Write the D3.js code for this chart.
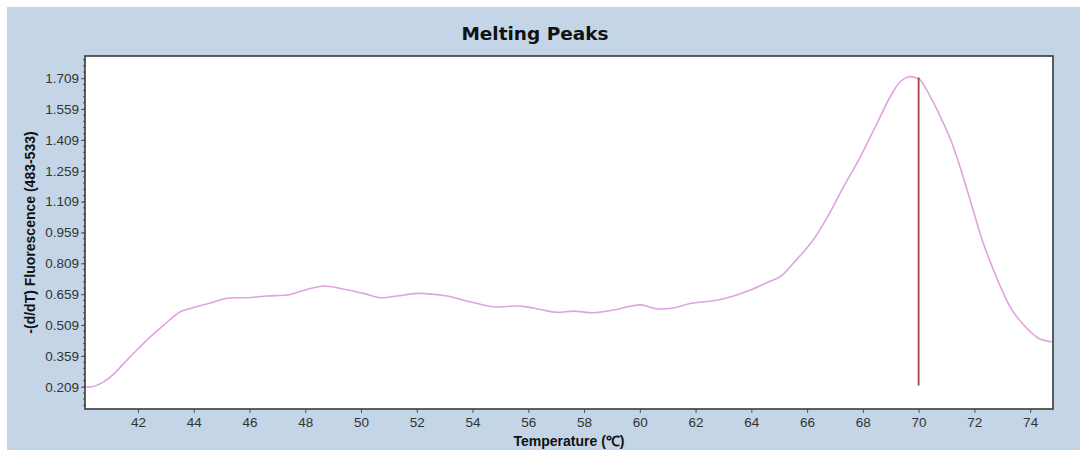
<!DOCTYPE html>
<html>
<head>
<meta charset="utf-8">
<script src="https://cdn.jsdelivr.net/npm/d3@7"></script>
<style>
  html, body { margin: 0; padding: 0; background: #fff; }
  svg { display: block; }
</style>
</head>
<body>
<div id="chart"></div>
<script>
// Data
const temps  = [40.10, 40.36, 40.95, 41.72, 42.32, 42.92, 43.52, 43.88, 44.47, 45.19,
                45.91, 46.63, 47.46, 48.06, 48.66, 49.26, 50.09, 50.69, 51.29, 52.01,
                53.08, 53.80, 54.75, 55.71, 56.43, 57.03, 57.62, 58.34, 59.06, 60.02,
                60.60, 61.20, 61.81, 62.77, 63.36, 63.96, 64.56, 65.04, 65.52, 66.15,
                66.71, 67.31, 67.91, 68.51, 68.98, 69.34, 69.64, 69.88, 70.06, 70.42,
                70.78, 71.20, 71.56, 71.92, 72.28, 72.64, 72.99, 73.35, 73.83, 74.31,
                74.78];
const fluor  = [0.209, 0.209, 0.250, 0.355, 0.436, 0.509, 0.574, 0.590, 0.611, 0.639,
                0.642, 0.650, 0.658, 0.682, 0.699, 0.687, 0.663, 0.642, 0.650, 0.663,
                0.650, 0.626, 0.598, 0.601, 0.585, 0.571, 0.577, 0.569, 0.582, 0.607,
                0.588, 0.592, 0.614, 0.630, 0.650, 0.679, 0.715, 0.745, 0.812, 0.910,
                1.030, 1.182, 1.327, 1.490, 1.619, 1.692, 1.716, 1.712, 1.700, 1.619,
                1.522, 1.392, 1.246, 1.084, 0.922, 0.792, 0.679, 0.582, 0.501, 0.444,
                0.428];
const peakTemp  = 70;
const peakRange = [0.215, 1.712];

const yTicks = [0.209, 0.359, 0.509, 0.659, 0.809, 0.959, 1.109, 1.259, 1.409, 1.559, 1.709];
const xTicks = [42, 44, 46, 48, 50, 52, 54, 56, 58, 60, 62, 64, 66, 68, 70, 72, 74];

const W = 1086, H = 454;
const plot = { left: 85, top: 56, right: 1053, bottom: 409 };

const svg = d3.select('#chart').append('svg')
    .attr('width', W)
    .attr('height', H);

// blue panel
svg.append('rect')
    .attr('x', 7).attr('y', 7)
    .attr('width', 1073).attr('height', 443)
    .attr('fill', '#c3d5e6');

const x = d3.scaleLinear().domain([40.1, 74.82]).range([plot.left, plot.right]);
const y = d3.scaleLinear().domain([0.101, 1.817]).range([plot.bottom, plot.top]);

// plot area
svg.append('rect')
    .attr('x', plot.left).attr('y', plot.top)
    .attr('width', plot.right - plot.left)
    .attr('height', plot.bottom - plot.top)
    .attr('fill', '#fff');

// minor y ticks
const minor = d3.range(0.119, 1.80, 0.03);
svg.append('g')
    .selectAll('line')
    .data(minor)
    .enter().append('line')
    .attr('x1', plot.left - 2).attr('x2', plot.left)
    .attr('y1', d => y(d)).attr('y2', d => y(d))
    .attr('stroke', '#555').attr('stroke-width', 1);

// axes
const yAxis = svg.append('g')
    .attr('transform', `translate(${plot.left},0)`)
    .call(d3.axisLeft(y).tickValues(yTicks).tickFormat(d3.format('.3f')).tickSize(4).tickPadding(2));

const xAxis = svg.append('g')
    .attr('transform', `translate(0,${plot.bottom})`)
    .call(d3.axisBottom(x).tickValues(xTicks).tickFormat(d3.format('d')).tickSize(4).tickPadding(4));

[yAxis, xAxis].forEach(a => {
  a.select('.domain').remove();
  a.selectAll('.tick line').attr('stroke', '#555');
  a.selectAll('.tick text')
    .attr('fill', '#333')
    .style('font-family', '"Liberation Sans", Arial, sans-serif')
    .style('font-size', '13.5px');
});

// curve
const pts = temps.map((t, i) => [t, fluor[i]]);
const line = d3.line()
    .x(d => x(d[0]))
    .y(d => y(d[1]))
    .curve(d3.curveCatmullRom.alpha(0.5));

svg.append('path')
    .datum(pts)
    .attr('d', line)
    .attr('fill', 'none')
    .attr('stroke', '#dfa3e0')
    .attr('stroke-width', 1.6);

// peak marker
svg.append('line')
    .attr('x1', x(peakTemp)).attr('x2', x(peakTemp))
    .attr('y1', y(peakRange[0])).attr('y2', y(peakRange[1]))
    .attr('stroke', '#a3463f')
    .attr('stroke-width', 1.8);

// plot frame
svg.append('rect')
    .attr('x', plot.left).attr('y', plot.top)
    .attr('width', plot.right - plot.left)
    .attr('height', plot.bottom - plot.top)
    .attr('fill', 'none')
    .attr('stroke', '#3a3a3a')
    .attr('stroke-width', 1.6);

// titles
svg.append('text')
    .attr('x', 535).attr('y', 40)
    .attr('text-anchor', 'middle')
    .style('font-family', '"DejaVu Sans", Verdana, sans-serif')
    .style('font-weight', 'bold')
    .style('font-size', '18.5px')
    .attr('fill', '#111')
    .text('Melting Peaks');

svg.append('text')
    .attr('x', (plot.left + plot.right) / 2).attr('y', 446)
    .attr('text-anchor', 'middle')
    .style('font-family', '"Liberation Sans", Arial, sans-serif')
    .style('font-weight', 'bold')
    .style('font-size', '14px')
    .attr('fill', '#111')
    .text('Temperature (℃)');

svg.append('text')
    .attr('transform', `translate(35,${(plot.top + plot.bottom) / 2}) rotate(-90)`)
    .attr('text-anchor', 'middle')
    .style('font-family', '"Liberation Sans", Arial, sans-serif')
    .style('font-weight', 'bold')
    .style('font-size', '14px')
    .attr('fill', '#111')
    .text('-(d/dT) Fluorescence (483-533)');
</script>
</body>
</html>
